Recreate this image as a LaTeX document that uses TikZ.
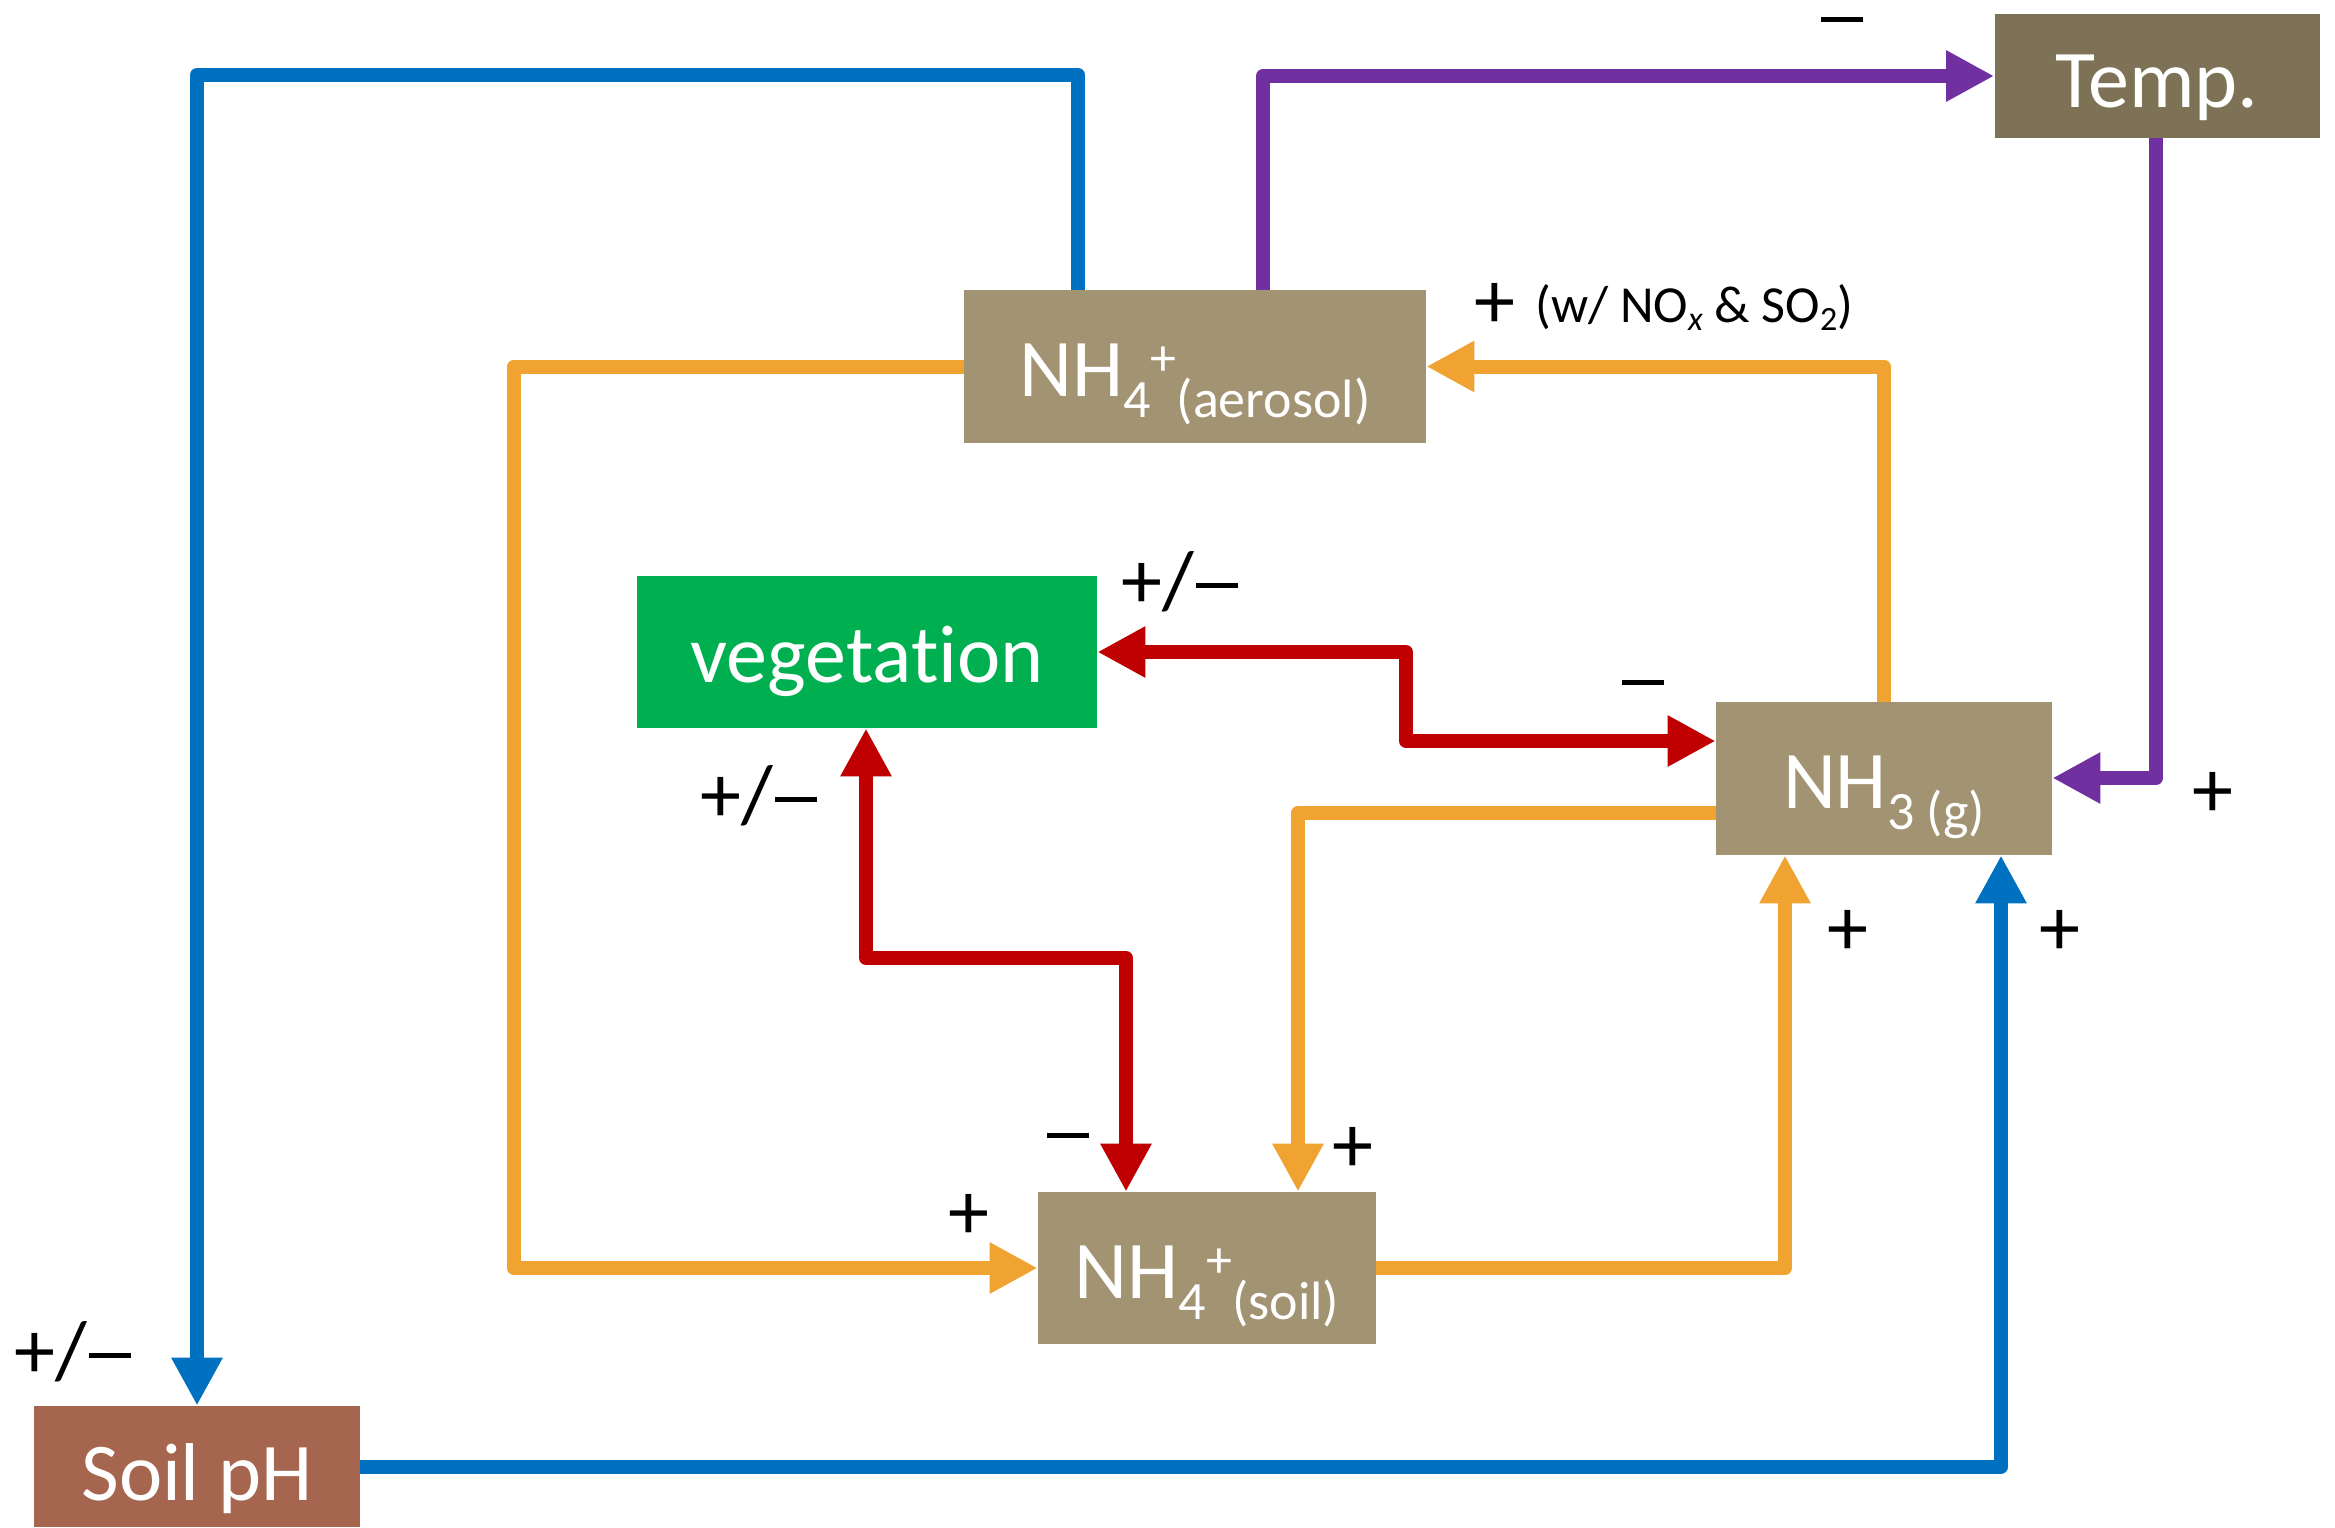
\documentclass[tikz,border=0pt]{standalone}
\usepackage{fontspec}
\setmainfont{Carlito}[Ligatures=CommonOff]
\usetikzlibrary{arrows.meta}
\definecolor{boxtan}{HTML}{A29472}
\definecolor{boxtemp}{HTML}{7D7256}
\definecolor{boxph}{HTML}{A5654E}
\definecolor{boxveg}{HTML}{00B050}
\definecolor{cOrange}{HTML}{F0A330}
\definecolor{cRed}{HTML}{C00000}
\definecolor{cBlue}{HTML}{0070C0}
\definecolor{cPurple}{HTML}{7030A0}
\newcommand\mysb[1]{\raisebox{-10.5pt}{\fontsize{27pt}{27pt}\selectfont #1}}
\newcommand\mysp[1]{\raisebox{10.5pt}{\fontsize{26pt}{26pt}\selectfont #1}}
\newcommand\mymin{\kern1pt\rule[9.8pt]{21pt}{2.5pt}\kern1pt}
\begin{document}
\begin{tikzpicture}[x=0.5pt,y=-0.5pt,
  box/.style={rectangle, inner sep=0pt, text=white, font=\fontsize{41pt}{41pt}\selectfont, text depth=0pt},
  conn/.style={line width=7pt, line join=round},
  tipend/.style={-{Triangle[length=24pt,width=24pt]}},
  tipboth/.style={{Triangle[length=24pt,width=24pt]}-{Triangle[length=24pt,width=24pt]}},
  sign/.style={inner sep=0pt, anchor=base, font=\fontsize{41pt}{41pt}\selectfont},
  smalltxt/.style={inner sep=0pt, anchor=base west, font=\fontsize{26pt}{26pt}\selectfont}]
\useasboundingbox (0,0) rectangle (2335,1527);
\fill[white] (0,0) rectangle (2335,1527);

% boxes
\node[box, fill=boxtemp, minimum width=162.5pt, minimum height=62pt, text height=31pt] (tmp) at (2157,76) {Temp.};
\node[box, fill=boxtan, minimum width=231pt, minimum height=76.5pt, text height=29.5pt] (aer) at (1195,366.5) {NH\mysb{4}\mysp{+}\mysb{(aerosol)}};
\node[box, fill=boxveg, minimum width=230pt, minimum height=76pt, text height=30pt] (veg) at (867,652) {vegetation};
\node[box, fill=boxtan, minimum width=168pt, minimum height=76.5pt, text height=29.5pt] (nh3) at (1884,778.5) {NH\mysb{3 (g)}};
\node[box, fill=boxtan, minimum width=169pt, minimum height=76pt, text height=30pt] (soil) at (1207,1268) {NH\mysb{4}\mysp{+}\mysb{(soil)}};
\node[box, fill=boxph, minimum width=163pt, minimum height=60.5pt, text height=33.5pt] (ph) at (197,1466.5) {Soil pH};

% blue
\draw[conn, cBlue, tipend] (aer.north -| 1078,0) |- (197,75) -- (ph.north -| 197,0);
\draw[conn, cBlue, tipend] (ph.east) -| (nh3.south -| 2001,0);
% purple
\draw[conn, cPurple, tipend] (aer.north -| 1263,0) |- (tmp.west);
\draw[conn, cPurple, tipend] (tmp.south -| 2156,0) |- (nh3.east |- 0,778);
% orange
\draw[conn, cOrange, tipend] (aer.west) -- (aer.west -| 514,0) |- (soil.west);
\draw[conn, cOrange, tipend] (nh3.north -| 1884,0) |- (aer.east);
\draw[conn, cOrange, tipend] (nh3.west |- 0,813) -| (soil.north -| 1298,0);
\draw[conn, cOrange, tipend] (soil.east) -| (nh3.south -| 1785,0);
% red
\draw[conn, cRed, tipboth] (veg.east) -- (veg.east -| 1406,0) |- (nh3.west |- 0,741);
\draw[conn, cRed, tipboth] (veg.south -| 866,0) -- (866,958) -| (soil.north -| 1126,0);

% signs
\node[sign] (s1) at (1842,42) {\mymin};
\node[sign] (s2) at (1495,328) {+};
\node[smalltxt] (s2b) at (1535,322) {(w/ NO\raisebox{-4pt}{\fontsize{17pt}{17pt}\selectfont\itshape x} \& SO\raisebox{-4pt}{\fontsize{17pt}{17pt}\selectfont 2})};
\node[sign] (s3) at (1181,608) {+/\mymin};
\node[sign] (s4) at (1643,705) {\mymin};
\node[sign] (s5) at (2213,817) {+};
\node[sign] (s6) at (760,822) {+/\mymin};
\node[sign] (s7) at (1848,955) {+};
\node[sign] (s8) at (2060,955) {+};
\node[sign] (s9) at (1068,1158) {\mymin};
\node[sign] (s10) at (1353,1172) {+};
\node[sign] (s11) at (969,1239) {+};
\node[sign] (s12) at (74,1378) {+/\mymin};
\end{tikzpicture}
\end{document}
